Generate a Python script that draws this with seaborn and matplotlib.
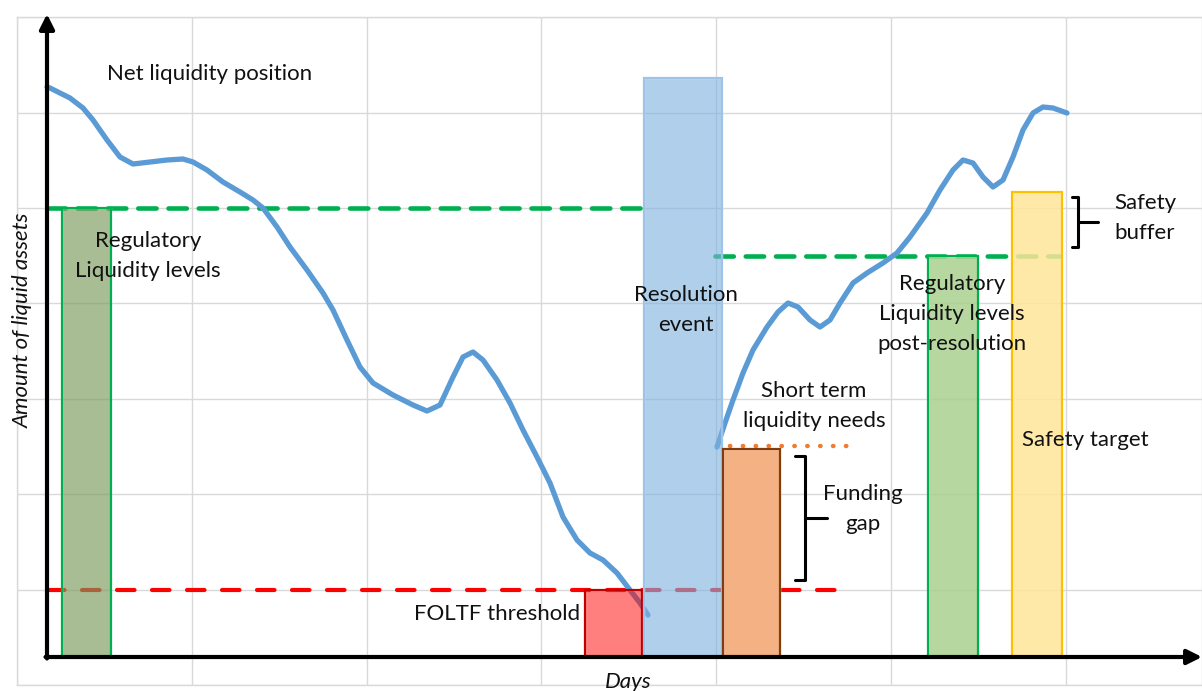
import numpy as np
import pandas as pd
import seaborn as sns
import matplotlib.pyplot as plt

sns.set_theme(style="whitegrid")
plt.rcParams['font.family'] = ['Lato', 'DejaVu Sans']

# net liquidity position before the resolution event (days, amount)
pre_days = [0, 3, 23, 36, 46, 60, 73, 86, 103, 120, 136, 146, 160, 176, 193, 206, 216, 230,
            243, 260, 276, 286, 300, 313, 326, 346, 366, 380, 393, 406, 416, 426, 436, 450,
            463, 476, 490, 503, 516, 530, 543, 556, 570, 583, 593, 601]
pre_amount = [570, 569, 559, 549, 537, 517, 500, 493, 495, 497, 498, 495, 487, 475, 465, 457,
              449, 430, 410, 387, 364, 347, 317, 290, 274, 262, 252, 246, 252, 280, 300, 305,
              297, 277, 254, 227, 200, 174, 140, 117, 104, 97, 84, 67, 54, 42]

# net liquidity position after the resolution event
post_days = [670, 678, 686, 696, 706, 720, 731, 741, 751, 763, 773, 783, 793, 806, 820, 836,
             850, 863, 880, 893, 906, 916, 926, 936, 946, 956, 966, 976, 986, 996, 1006, 1020]
post_amount = [210, 234, 257, 284, 307, 330, 345, 354, 350, 337, 330, 337, 354, 374, 384, 394,
               404, 420, 444, 467, 487, 497, 494, 480, 470, 477, 500, 527, 544, 550, 549, 544]

# bars: left edge, width, height
bar_names = ["reg", "foltf", "resolution", "short_term", "reg_post", "safety"]
bar_left = [15, 538, 597, 676, 881, 965]
bar_width = [49, 57, 78, 57, 50, 50]
bar_height = [449, 67, 579, 208, 401, 465]
bar_face = ["#7a9a5a", "#ff0000", "#7fb2e0", "#f4b183", "#a9d18e", "#ffe699"]
bar_alpha = [0.65, 0.5, 0.62, 1.0, 0.85, 0.85]
bar_edge = ["#00b050", "#c00000", "#9dc3e6", "#843c0c", "#00b050", "#ffc000"]

# threshold levels
reg_level = 449
reg_post_level = 401
foltf_level = 67
short_term_level = 211

fig = plt.figure(figsize=(12.02, 6.91), dpi=100)
ax = fig.add_axes([17 / 1202, 6 / 691, 1185 / 1202, 668 / 691])
ax.set_xlim(-30, 1155)
ax.set_ylim(-28, 640)
ax.set_xticks(np.arange(-30, 1156, 174.8))
ax.set_yticks(np.arange(-28, 641, 95.4))
ax.set_xticklabels([])
ax.set_yticklabels([])
ax.tick_params(length=0)
ax.grid(color="#d9d9d9", lw=1)
for s in ax.spines.values():
    s.set_color("#d9d9d9")
    s.set_linewidth(1)

# bars
for i in range(len(bar_names)):
    ax.bar(bar_left[i], bar_height[i], width=bar_width[i], align="edge",
           color=bar_face[i], alpha=bar_alpha[i], zorder=4)
    ax.bar(bar_left[i], bar_height[i], width=bar_width[i], align="edge",
           facecolor="none", edgecolor=bar_edge[i], lw=1.6, zorder=4)

# level lines
ax.plot([0, 600], [reg_level, reg_level], color="#00b050", lw=3.3, dashes=(4, 2.6),
        dash_capstyle="round", zorder=3)
ax.plot([668, 1013], [reg_post_level, reg_post_level], color="#00b050", lw=3.3,
        dashes=(4, 2.6), dash_capstyle="round", zorder=3)
ax.plot([0, 805], [foltf_level, foltf_level], color="#ff0000", lw=3.0, dashes=(4.2, 4.2),
        dash_capstyle="round", zorder=3)
ax.plot([670, 811], [short_term_level, short_term_level], color="#ed7d31", lw=3.2,
        dashes=(0.1, 2.8), dash_capstyle="round", zorder=3)

# curve
pre = pd.DataFrame({"days": pre_days, "amount": pre_amount})
post = pd.DataFrame({"days": post_days, "amount": post_amount})
sns.lineplot(data=pre, x="days", y="amount", ax=ax, color="#5b9bd5", lw=3.8,
             sort=False, zorder=3.5)
sns.lineplot(data=post, x="days", y="amount", ax=ax, color="#5b9bd5", lw=3.8,
             sort=False, zorder=3.5)
for l in ax.lines[-2:]:
    l.set_solid_joinstyle("round")
    l.set_solid_capstyle("round")
ax.set_xlabel("")
ax.set_ylabel("")

# axes arrows
arrow = dict(arrowstyle="-|>", lw=3, color="black", mutation_scale=22, shrinkA=0, shrinkB=0)
ax.annotate("", xy=(0, 643), xytext=(0, -1.5), arrowprops=arrow, annotation_clip=False, zorder=6)
ax.annotate("", xy=(1155, 0), xytext=(-1.5, 0), arrowprops=arrow, annotation_clip=False, zorder=6)


# brackets
def bracket(x, y0, y1, hook, tick):
    ym = (y0 + y1) / 2
    ax.plot([x - hook, x, x, x - hook], [y1, y1, y0, y0], color="black", lw=2.2,
            solid_joinstyle="round", zorder=5)
    ax.plot([x, x + tick], [ym, ym], color="black", lw=2.2, zorder=5)


bracket(758, 77, 201, 10, 22)
bracket(1031, 410, 460, 6, 20)

fs = 16
txt = dict(fontsize=fs, color="#111111", ha="center", va="center", linespacing=1.6, zorder=7)
ax.text(60, 583, "Net liquidity position", **{**txt, "ha": "left"})
ax.text(101, 401, "Regulatory\nLiquidity levels", **txt)
ax.text(639, 347, "Resolution\nevent", **txt)
ax.text(767, 251, "Short term\nliquidity needs", **txt)
ax.text(816, 148, "Funding\ngap", **txt)
ax.text(905, 343, "Regulatory\nLiquidity levels\npost-resolution", **txt)
ax.text(1098, 439, "Safety\nbuffer", **txt)
ax.text(1038, 217, "Safety target", **txt)
ax.text(450, 43, "FOLTF threshold", **txt)
ax.text(581, -25, "Days", **{**txt, "style": "italic"})
ax.text(-24, 337, "Amount of liquid assets", rotation=90, **{**txt, "style": "italic"})

fig.savefig("out.png", dpi=100)
